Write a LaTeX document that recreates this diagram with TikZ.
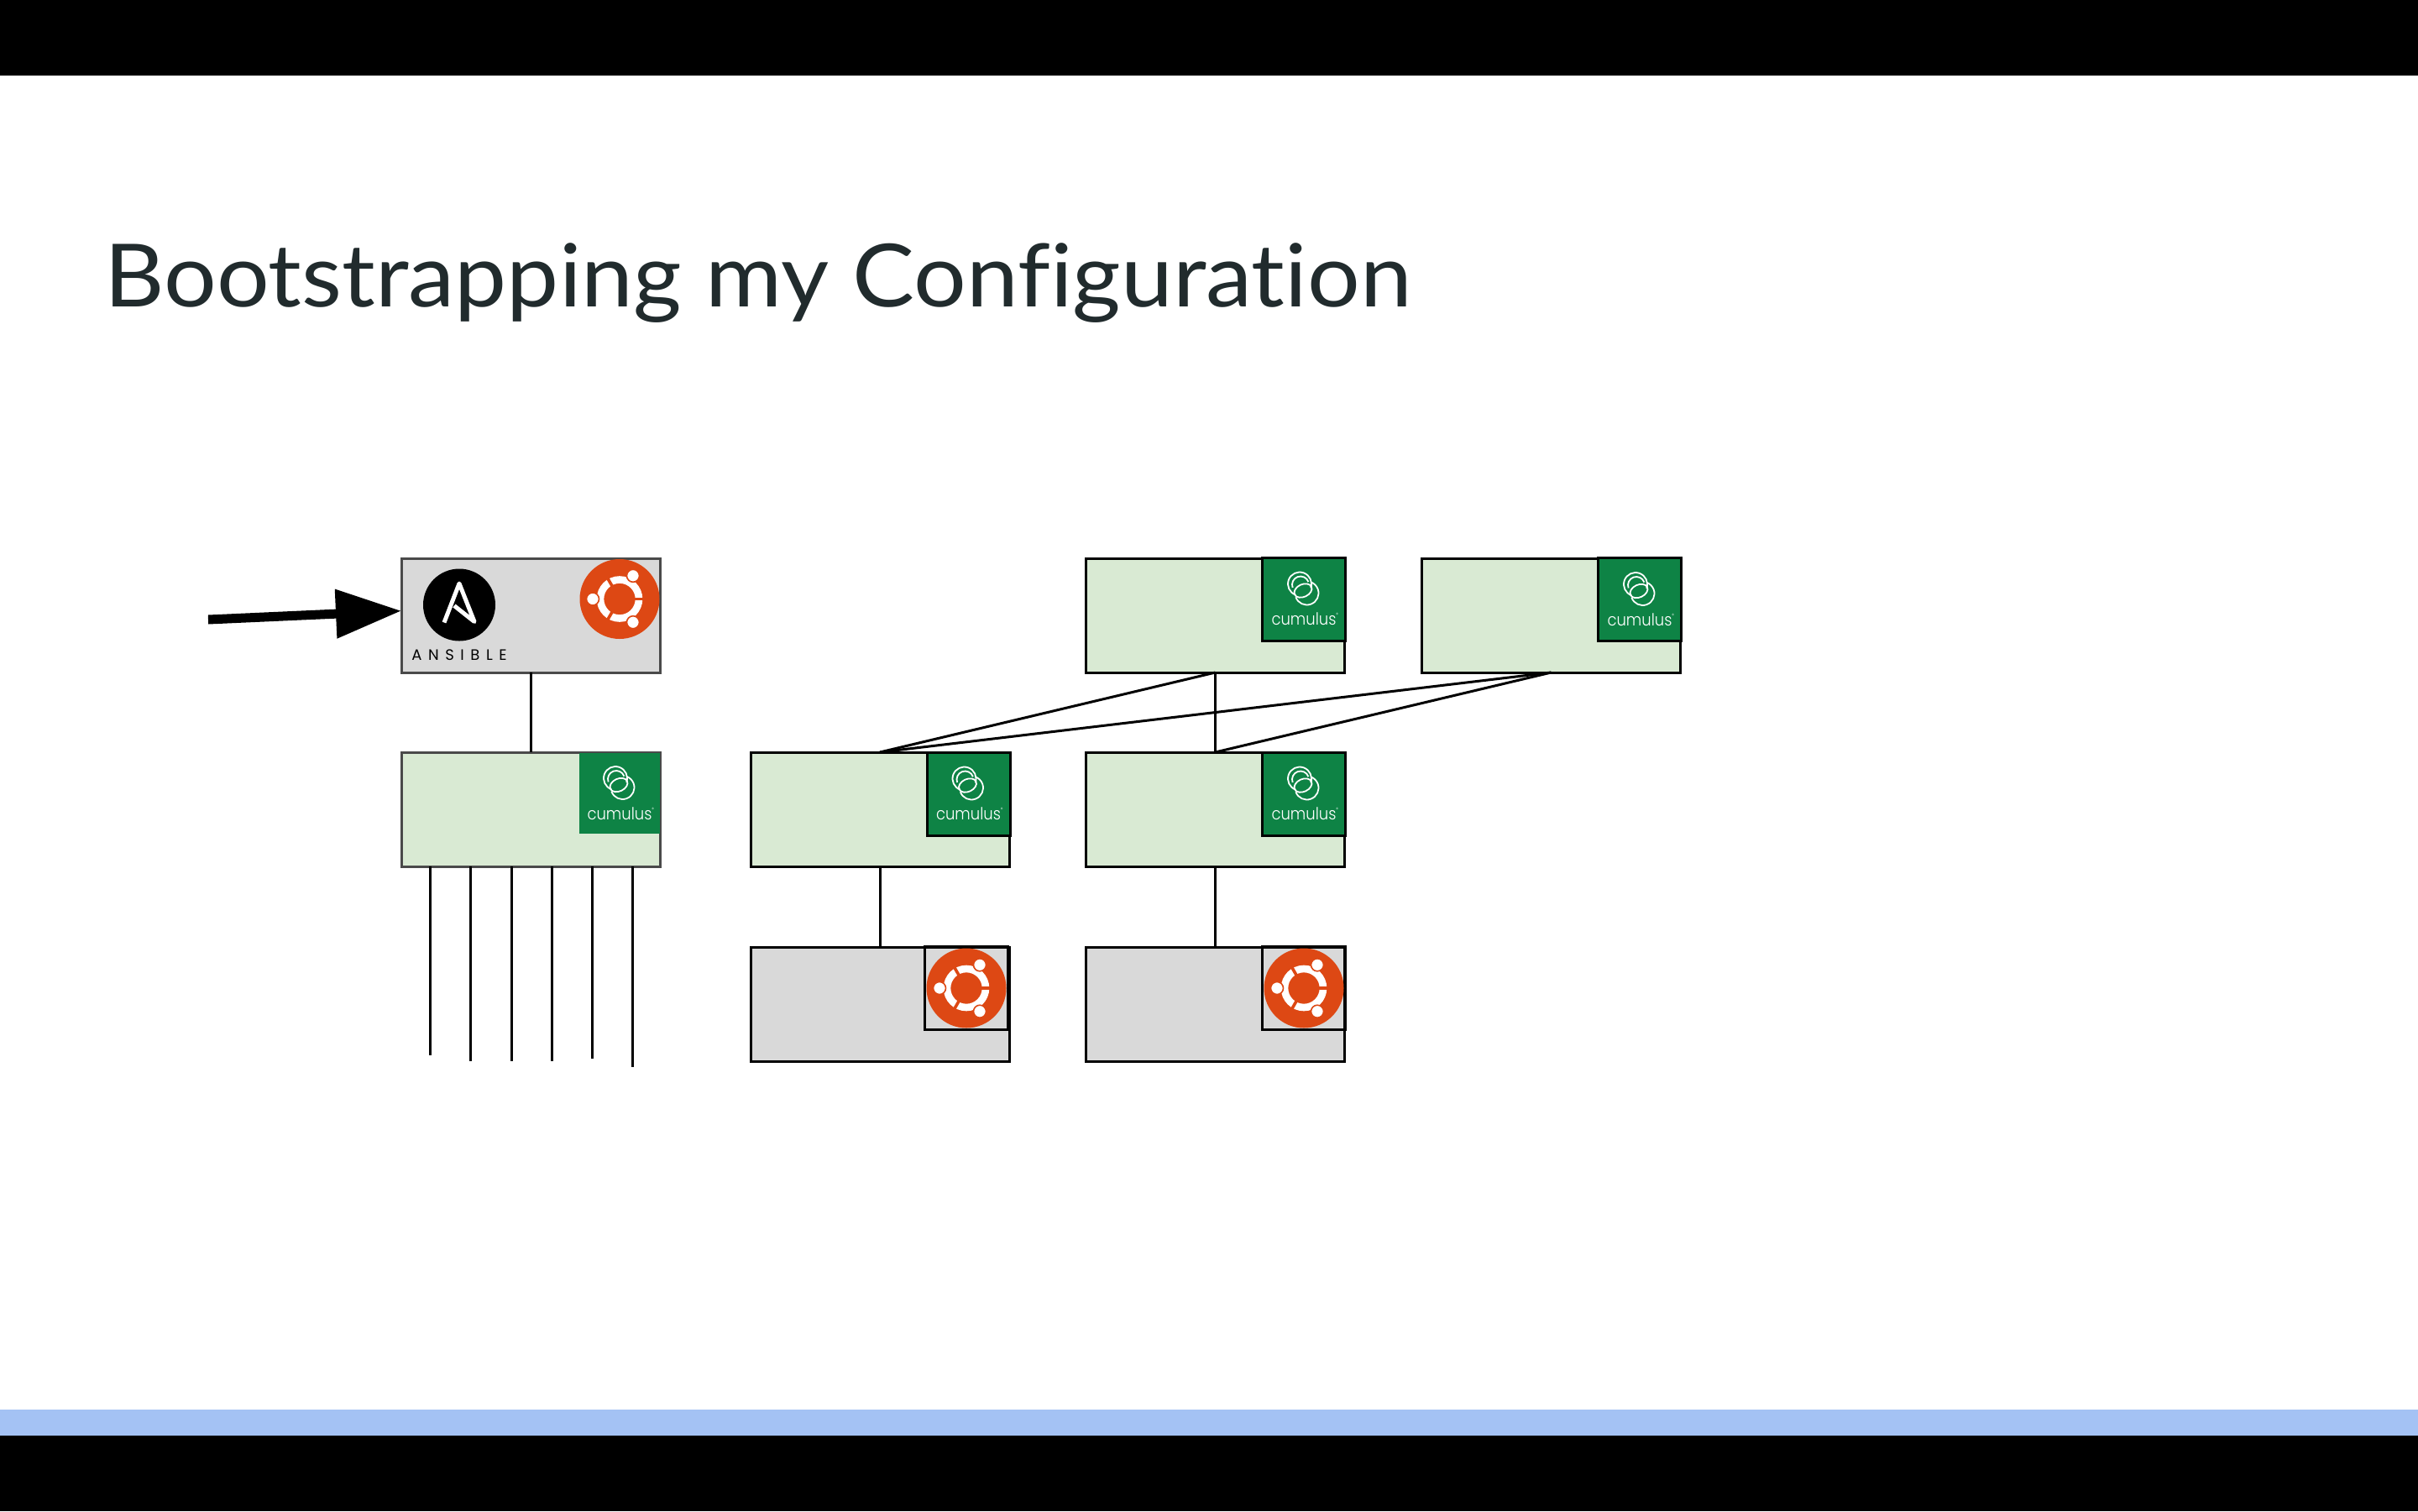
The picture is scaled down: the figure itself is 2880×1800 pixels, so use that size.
\documentclass[tikz,border=0pt]{standalone}
\usepackage{fontspec}
\setmainfont{Lato}[Ligatures=CommonOff,FakeStretch=1.065]
\newfontfamily\cumulusfont{Poppins}[UprightFont=* Light,FakeStretch=0.9]
\newfontfamily\ansiblefont{Poppins}[LetterSpace=42]
\usetikzlibrary{arrows.meta}
\definecolor{titleink}{HTML}{212B2D}
\definecolor{boxgray}{HTML}{D9D9D9}
\definecolor{boxgreen}{HTML}{D9EAD3}
\definecolor{edgegray}{HTML}{4A4A4A}
\definecolor{cumulusgreen}{HTML}{0E8345}
\definecolor{ubuntuorange}{HTML}{DD4814}
\definecolor{bandblue}{HTML}{A4C2F4}
\tikzset{
  device/.style={draw=black, line width=1.5pt, minimum width=154pt, minimum height=68pt, inner sep=0pt, outer sep=0pt},
  switchbox/.style={device, fill=boxgreen},
  serverbox/.style={device, fill=boxgray},
  logobox/.style={line width=1.5pt, minimum size=49.5pt, inner sep=0pt, outer sep=0pt},
  link/.style={black, line width=1.5pt},
  ubuntu/.pic={
    \fill[ubuntuorange] (0,0) circle (47.5);
    \draw[white, line width=4.3pt] (0,0) circle (23);
    \foreach \a in {0,120,240} {
      \draw[ubuntuorange, line width=1.8pt] (\a:16) -- (\a:31);
    }
    \foreach \a in {60,180,300} {
      \draw[ubuntuorange, fill=white, line width=0.8pt] (\a:32) circle (7.5);
    }
  },
  cumulus/.pic={
    \draw[white, line width=0.9pt] (-5,-18) ++(-250:14) arc (-250:20:14);
    \draw[white, line width=0.9pt] (-4,-17) ++(-200:10) arc (-200:-20:10);
    \draw[white, line width=0.9pt] (3.5,-7) ++(-200:14) arc (-200:-430:14);
    \draw[white, line width=0.9pt, shift={(-1,-10)}, rotate=25] (0,0) ellipse [x radius=11, y radius=7.5];
    \node (word) [white, font=\cumulusfont\fontsize{10}{12}\selectfont, inner sep=0pt, anchor=base] at (0,31) {cumulus\rlap{\raisebox{5pt}{\fontsize{3}{3}\selectfont ®}}};
  }
}
\begin{document}
\begin{tikzpicture}[x=0.5pt,y=-0.5pt]
\useasboundingbox (0,0) rectangle (2880,1800);
\fill[black] (0,0) rectangle (2880,90);
\fill[bandblue] (0,1679) rectangle (2880,1710);
\fill[black] (0,1710) rectangle (2880,1800);
\node (title) [anchor=base west, inner sep=0pt, text=titleink, font=\fontsize{52}{60}\selectfont] at (124,365) {Bootstrapping my Configuration};

\node (ansible) [serverbox, draw=edgegray] at (632,733) {};
\node (mgmt) [switchbox, draw=edgegray] at (632,964) {};
\node (spinea) [switchbox] at (1447.5,733) {};
\node (spineb) [switchbox] at (1847.5,733) {};
\node (leafa) [switchbox] at (1048,964) {};
\node (leafb) [switchbox] at (1447.5,964) {};
\node (servera) [serverbox] at (1048,1196) {};
\node (serverb) [serverbox] at (1447.5,1196) {};

% logos in the corners
\node (mgmtlogo) [logobox, minimum size=48pt, fill=cumulusgreen] at (738,945) {};
\node (spinealogo) [logobox, fill=cumulusgreen, draw=black] at (1553,713.5) {};
\node (spineblogo) [logobox, fill=cumulusgreen, draw=black] at (1953,714) {};
\node (leafalogo) [logobox, fill=cumulusgreen, draw=black] at (1153.5,945.5) {};
\node (leafblogo) [logobox, fill=cumulusgreen, draw=black] at (1553,945.5) {};
\foreach \n in {mgmtlogo, spinealogo, spineblogo, leafalogo, leafblogo} {
  \pic (\n-c) at (\n) {cumulus};
}
\node (serveralogo) [logobox, draw=black] at (1151,1177) {};
\node (serverblogo) [logobox, draw=black] at (1553,1177) {};
\pic at (serveralogo) {ubuntu};
\pic at (serverblogo) {ubuntu};
\pic at (738,713.5) {ubuntu};

\node (ansiblemark) [circle, fill=black, minimum size=43pt, inner sep=0pt] at (547,720.5) {};
\draw[white, line width=2.5pt, line join=round] (529,741.5) -- (547,695) -- (565,740.5) -- (541,721.5);
\node (ansibleword) [anchor=base, inner sep=0pt, font=\ansiblefont\fontsize{9}{11}\selectfont] at (547,786) {ANSIBLE};

% links
\draw[link] (ansible.south) -- (mgmt.north);
\draw[link] (spinea.south) -- (leafa.north);
\draw[link] (spinea.south) -- (leafb.north);
\draw[link] (spineb.south) -- (leafa.north);
\draw[link] (spineb.south) -- (leafb.north);
\draw[link] (leafa.south) -- (servera.north);
\draw[link] (leafb.south) -- (serverb.north);
\foreach \i/\x/\y in {1/512/1257, 2/560/1264, 3/609/1264, 4/657/1264, 5/705/1261, 6/753/1271} {
  \coordinate (port\i) at (\x,\y);
  \draw[link] (port\i |- mgmt.south) -- (port\i);
}

\coordinate (handstart) at (248,738);
\draw[black, line width=5.5pt, -{Triangle[length=39pt,width=28pt]}] (handstart) -- (ansible.178.5);
\end{tikzpicture}
\end{document}
